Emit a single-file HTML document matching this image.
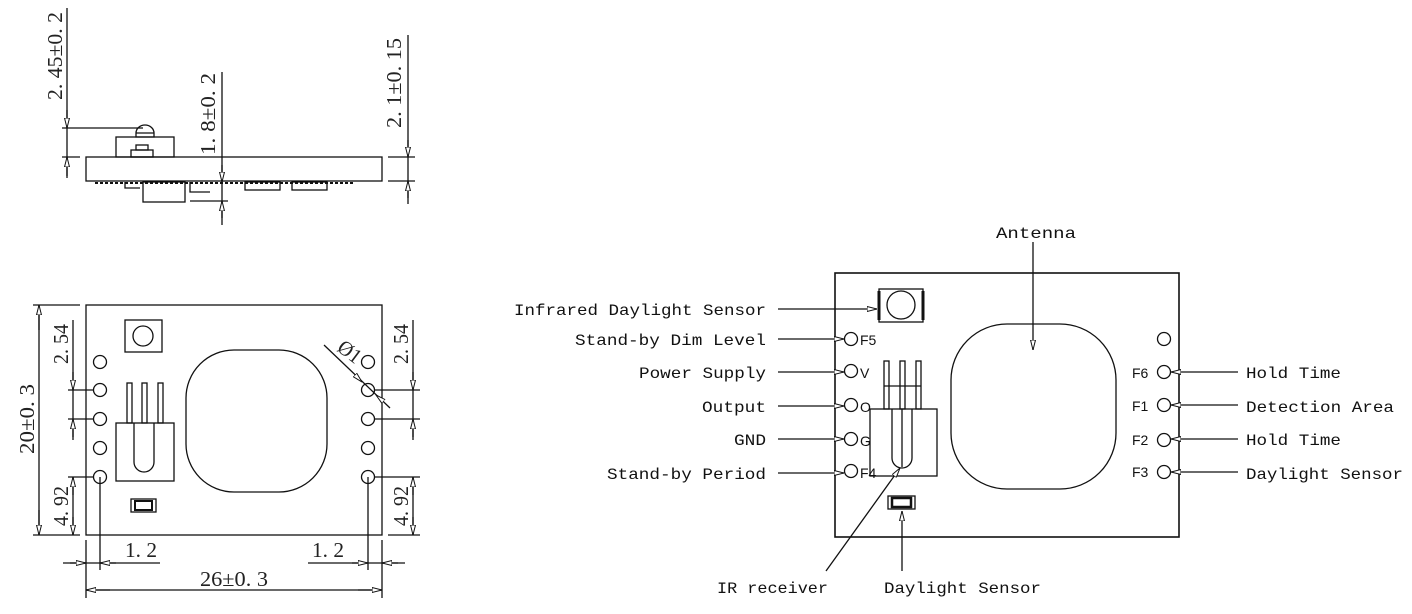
<!DOCTYPE html>
<html><head><meta charset="utf-8"><style>
html,body{margin:0;padding:0;background:#fff;}
svg{display:block}
.s{font-family:"Liberation Serif",serif;font-size:21px;fill:#222}
.m{font-family:"Liberation Mono",monospace;font-size:16px;fill:#111}
.p{font-family:"Liberation Sans",sans-serif;font-size:14px;fill:#111}
</style></head><body>
<svg width="1412" height="614" viewBox="0 0 1412 614" xmlns="http://www.w3.org/2000/svg">
<defs>
<marker id="a" markerWidth="10" markerHeight="6" refX="10" refY="3" orient="auto" markerUnits="userSpaceOnUse"><path d="M0,0.5 L10,3 L0,5.5 Z" fill="#fff" stroke="#111" stroke-width="1"/></marker>
</defs>
<g fill="none" stroke="#111" stroke-width="1.3">
<!-- side view -->
<rect x="86" y="157" width="296" height="24"/>
<rect x="116" y="137" width="58" height="20"/>
<rect x="131" y="150" width="22" height="7"/><rect x="136" y="145" width="12" height="5"/>
<path d="M136,133 A9,8 0 0 1 154,133 L154,137 L136,137 Z"/><line x1="136" y1="133" x2="154" y2="133"/>
<rect x="143" y="182" width="42" height="20"/>
<rect x="245" y="182" width="35" height="8"/><rect x="292" y="182" width="35" height="8"/>
<path d="M125,182 v6 h15 M190,182 v10 h20"/>
<line x1="95" y1="183" x2="355" y2="183" stroke-dasharray="3,2" stroke-width="2"/>
<line x1="67" y1="8" x2="67" y2="178"/>
<line x1="62" y1="128" x2="143" y2="128"/><line x1="62" y1="157" x2="80" y2="157"/>
<line x1="67" y1="110" x2="67" y2="128" marker-end="url(#a)"/><line x1="67" y1="176" x2="67" y2="157" marker-end="url(#a)"/>
<line x1="222" y1="72" x2="222" y2="225"/>
<line x1="190" y1="201" x2="228" y2="201"/>
<line x1="222" y1="165" x2="222" y2="182" marker-end="url(#a)"/><line x1="222" y1="218" x2="222" y2="201" marker-end="url(#a)"/>
<line x1="408" y1="35" x2="408" y2="204"/>
<line x1="388" y1="157" x2="415" y2="157"/><line x1="388" y1="181" x2="415" y2="181"/>
<line x1="408" y1="140" x2="408" y2="157" marker-end="url(#a)"/><line x1="408" y1="198" x2="408" y2="181" marker-end="url(#a)"/>

<!-- top view left -->
<rect x="86" y="305" width="296" height="230"/>
<rect x="125" y="320" width="37" height="32"/><circle cx="143" cy="336" r="10"/>
<circle cx="100" cy="362" r="6.5"/><circle cx="100" cy="390" r="6.5"/><circle cx="100" cy="419" r="6.5"/><circle cx="100" cy="448" r="6.5"/><circle cx="100" cy="477" r="6.5"/>
<circle cx="368" cy="362" r="6.5"/><circle cx="368" cy="390" r="6.5"/><circle cx="368" cy="419" r="6.5"/><circle cx="368" cy="448" r="6.5"/><circle cx="368" cy="477" r="6.5"/>
<rect x="186" y="350" width="141" height="142" rx="48"/>
<rect x="116" y="423" width="58" height="58"/>
<rect x="127" y="383" width="5" height="40"/><rect x="142" y="383" width="5" height="40"/><rect x="158" y="383" width="5" height="40"/>
<path d="M134,423 V462 A10,10 0 0 0 154,462 V423"/>
<rect x="131" y="499" width="25" height="13"/><rect x="135" y="501" width="17" height="9" stroke-width="2"/>
<line x1="39" y1="305" x2="39" y2="535"/>
<line x1="33" y1="305" x2="80" y2="305"/><line x1="33" y1="535" x2="80" y2="535"/>
<line x1="39" y1="330" x2="39" y2="305" marker-end="url(#a)"/><line x1="39" y1="510" x2="39" y2="535" marker-end="url(#a)"/>
<line x1="73" y1="320" x2="73" y2="440"/>
<line x1="68" y1="390" x2="93" y2="390"/><line x1="68" y1="419" x2="93" y2="419"/>
<line x1="73" y1="372" x2="73" y2="390" marker-end="url(#a)"/><line x1="73" y1="437" x2="73" y2="419" marker-end="url(#a)"/>
<line x1="73" y1="477" x2="73" y2="535"/><line x1="68" y1="477" x2="93" y2="477"/>
<line x1="73" y1="495" x2="73" y2="477" marker-end="url(#a)"/><line x1="73" y1="517" x2="73" y2="535" marker-end="url(#a)"/>
<line x1="413" y1="320" x2="413" y2="440"/>
<line x1="375" y1="390" x2="420" y2="390"/><line x1="375" y1="419" x2="420" y2="419"/>
<line x1="413" y1="372" x2="413" y2="390" marker-end="url(#a)"/><line x1="413" y1="437" x2="413" y2="419" marker-end="url(#a)"/>
<line x1="413" y1="477" x2="413" y2="535"/><line x1="375" y1="477" x2="420" y2="477"/><line x1="388" y1="535" x2="420" y2="535"/>
<line x1="413" y1="495" x2="413" y2="477" marker-end="url(#a)"/><line x1="413" y1="517" x2="413" y2="535" marker-end="url(#a)"/>
<line x1="324" y1="345" x2="390" y2="408"/>
<line x1="355" y1="375" x2="362" y2="382" marker-end="url(#a)"/><line x1="383" y1="401" x2="376" y2="395" marker-end="url(#a)"/>
<line x1="86" y1="540" x2="86" y2="598"/><line x1="100" y1="477" x2="100" y2="570"/>
<line x1="382" y1="540" x2="382" y2="598"/><line x1="368" y1="477" x2="368" y2="570"/>
<line x1="63" y1="563" x2="160" y2="563"/>
<line x1="70" y1="563" x2="86" y2="563" marker-end="url(#a)"/><line x1="116" y1="563" x2="100" y2="563" marker-end="url(#a)"/>
<line x1="308" y1="563" x2="405" y2="563"/>
<line x1="352" y1="563" x2="368" y2="563" marker-end="url(#a)"/><line x1="398" y1="563" x2="382" y2="563" marker-end="url(#a)"/>
<line x1="86" y1="590" x2="382" y2="590"/>
<line x1="110" y1="590" x2="86" y2="590" marker-end="url(#a)"/><line x1="358" y1="590" x2="382" y2="590" marker-end="url(#a)"/>

<!-- right diagram -->
<rect x="835" y="273" width="344" height="264" stroke-width="1.6"/>
<rect x="879" y="289" width="44" height="33"/><circle cx="901" cy="305" r="14"/>
<line x1="879" y1="291" x2="879" y2="320" stroke-width="3"/><line x1="923" y1="291" x2="923" y2="320" stroke-width="3"/>
<circle cx="851" cy="339" r="6.5"/><circle cx="851" cy="371" r="6.5"/><circle cx="851" cy="405" r="6.5"/><circle cx="851" cy="439" r="6.5"/><circle cx="851" cy="471" r="6.5"/>
<circle cx="1164" cy="339" r="6.5"/><circle cx="1164" cy="372" r="6.5"/><circle cx="1164" cy="405" r="6.5"/><circle cx="1164" cy="440" r="6.5"/><circle cx="1164" cy="472" r="6.5"/>
<rect x="951" y="324" width="165" height="165" rx="56"/>
<rect x="870" y="409" width="67" height="67"/>
<rect x="884" y="361" width="5" height="48"/><rect x="900" y="361" width="5" height="48"/><rect x="916" y="361" width="5" height="48"/>
<line x1="884" y1="386" x2="921" y2="386"/>
<path d="M892,409 V458 A10,10 0 0 0 912,458 V409 M902,409 V467"/>
<rect x="888" y="496" width="27" height="13"/><rect x="892" y="498" width="19" height="9" stroke-width="2.5"/>
<line x1="778" y1="309" x2="877" y2="309" marker-end="url(#a)"/>
<line x1="778" y1="339" x2="844" y2="339" marker-end="url(#a)"/>
<line x1="778" y1="372" x2="844" y2="372" marker-end="url(#a)"/>
<line x1="778" y1="406" x2="844" y2="406" marker-end="url(#a)"/>
<line x1="778" y1="439" x2="844" y2="439" marker-end="url(#a)"/>
<line x1="778" y1="473" x2="844" y2="473" marker-end="url(#a)"/>
<line x1="1238" y1="372" x2="1171" y2="372" marker-end="url(#a)"/>
<line x1="1238" y1="405" x2="1171" y2="405" marker-end="url(#a)"/>
<line x1="1238" y1="439" x2="1171" y2="439" marker-end="url(#a)"/>
<line x1="1238" y1="472" x2="1171" y2="472" marker-end="url(#a)"/>
<line x1="1033" y1="242" x2="1033" y2="350" marker-end="url(#a)"/>
<line x1="826" y1="571" x2="900" y2="468" marker-end="url(#a)"/>
<line x1="902" y1="571" x2="902" y2="511" marker-end="url(#a)"/>
</g>
<!-- left texts -->
<text class="s" transform="translate(62,100) rotate(-90)" textLength="88" lengthAdjust="spacingAndGlyphs">2. 45±0. 2</text>
<text class="s" transform="translate(215,155) rotate(-90)" textLength="82" lengthAdjust="spacingAndGlyphs">1. 8±0. 2</text>
<text class="s" transform="translate(401,128) rotate(-90)" textLength="90" lengthAdjust="spacingAndGlyphs">2. 1±0. 15</text>
<text class="s" transform="translate(34,454) rotate(-90)" textLength="70" lengthAdjust="spacingAndGlyphs">20±0. 3</text>
<text class="s" transform="translate(68,364) rotate(-90)" textLength="40" lengthAdjust="spacingAndGlyphs">2. 54</text>
<text class="s" transform="translate(68,526) rotate(-90)" textLength="40" lengthAdjust="spacingAndGlyphs">4. 92</text>
<text class="s" transform="translate(408,364) rotate(-90)" textLength="40" lengthAdjust="spacingAndGlyphs">2. 54</text>
<text class="s" transform="translate(408,526) rotate(-90)" textLength="40" lengthAdjust="spacingAndGlyphs">4. 92</text>
<text class="s" transform="translate(336,350) rotate(37)" textLength="24" lengthAdjust="spacingAndGlyphs">Ø1</text>
<text class="s" x="125" y="557" textLength="32" lengthAdjust="spacingAndGlyphs">1. 2</text>
<text class="s" x="312" y="557" textLength="32" lengthAdjust="spacingAndGlyphs">1. 2</text>
<text class="s" x="200" y="586" textLength="68" lengthAdjust="spacingAndGlyphs">26±0. 3</text>
<!-- right texts -->
<text class="m" x="514" y="315" textLength="252" lengthAdjust="spacingAndGlyphs">Infrared Daylight Sensor</text>
<text class="m" x="575" y="345" textLength="191" lengthAdjust="spacingAndGlyphs">Stand-by Dim Level</text>
<text class="m" x="639" y="378" textLength="127" lengthAdjust="spacingAndGlyphs">Power Supply</text>
<text class="m" x="702" y="412" textLength="64" lengthAdjust="spacingAndGlyphs">Output</text>
<text class="m" x="734" y="445" textLength="32" lengthAdjust="spacingAndGlyphs">GND</text>
<text class="m" x="607" y="479" textLength="159" lengthAdjust="spacingAndGlyphs">Stand-by Period</text>
<text class="m" x="1246" y="378" textLength="95" lengthAdjust="spacingAndGlyphs">Hold Time</text>
<text class="m" x="1246" y="412" textLength="148" lengthAdjust="spacingAndGlyphs">Detection Area</text>
<text class="m" x="1246" y="445" textLength="95" lengthAdjust="spacingAndGlyphs">Hold Time</text>
<text class="m" x="1246" y="479" textLength="157" lengthAdjust="spacingAndGlyphs">Daylight Sensor</text>
<text class="m" x="996" y="238" textLength="80" lengthAdjust="spacingAndGlyphs">Antenna</text>
<text class="m" x="717" y="593" textLength="111" lengthAdjust="spacingAndGlyphs">IR receiver</text>
<text class="m" x="884" y="593" textLength="157" lengthAdjust="spacingAndGlyphs">Daylight Sensor</text>
<text class="p" x="860" y="345">F5</text>
<text class="p" x="860" y="378" font-size="16">V</text>
<text class="p" x="860" y="412" font-size="16">O</text>
<text class="p" x="860" y="446" font-size="16">G</text>
<text class="p" x="860" y="478">F4</text>
<text class="p" x="1132" y="378">F6</text>
<text class="p" x="1132" y="411">F1</text>
<text class="p" x="1132" y="445">F2</text>
<text class="p" x="1132" y="477">F3</text>
</svg>
</body></html>
